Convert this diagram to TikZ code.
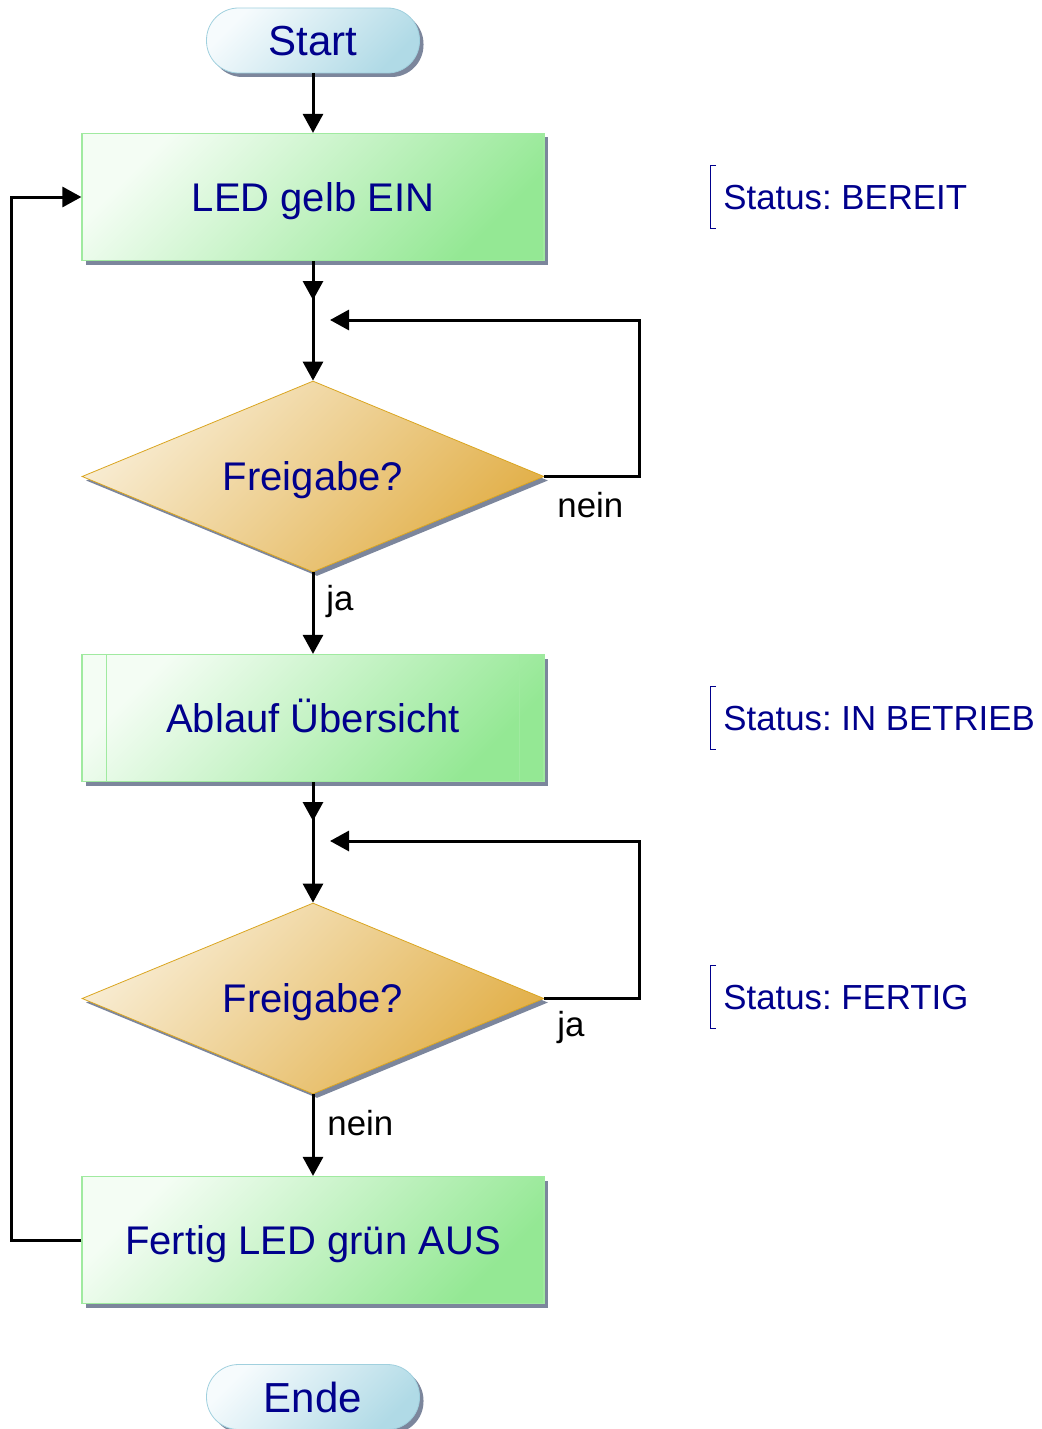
\documentclass[tikz,border=0pt]{standalone}
\usepackage{fontspec}
\setmainfont{Liberation Sans}
\frenchspacing
\usetikzlibrary{shapes.geometric,shadows,arrows.meta}

\definecolor{txtBlue}{RGB}{0,0,140}
\definecolor{termLight}{RGB}{246,251,253}
\definecolor{termDark}{RGB}{176,218,230}
\definecolor{termBorder}{RGB}{160,208,222}
\definecolor{boxLight}{RGB}{244,253,244}
\definecolor{boxDark}{RGB}{148,232,148}
\definecolor{boxBorder}{RGB}{160,234,160}
\definecolor{decLight}{RGB}{248,236,210}
\definecolor{decDark}{RGB}{226,176,74}
\definecolor{decBorder}{RGB}{218,165,32}
\definecolor{shadowGray}{RGB}{124,134,156}

\def\boxWidth{231pt}
\def\boxHeight{63.5pt}

\tikzset{
    shadowed/.style = {drop shadow = {shadow xshift = 2pt, shadow yshift = -2pt,
            fill = shadowGray, opacity = 1}},
    terminal/.style = {rectangle, rounded corners = 16pt, draw = termBorder,
            top color = termLight, bottom color = termDark, shading angle = 45,
            minimum width = 106.5pt, minimum height = 32.5pt, inner sep = 0pt,
            text height = 15pt, text depth = 0pt,
            text = txtBlue, font = \fontsize{21}{24}\selectfont, shadowed},
    flowbox/.style = {rectangle, draw = boxBorder, semithick,
            top color = boxLight, bottom color = boxDark, shading angle = 45,
            minimum width = \boxWidth, minimum height = \boxHeight, inner sep = 0pt,
            text height = 14.4pt, text depth = 0pt,
            text = txtBlue, font = \fontsize{20}{24}\selectfont, shadowed},
    decision/.style = {diamond, aspect = 2.4, draw = decBorder,
            top color = decLight, bottom color = decDark, shading angle = 45,
            minimum width = \boxWidth, minimum height = 95.5pt, inner sep = 0pt,
            text height = 14.4pt, text depth = 0pt,
            text = txtBlue, font = \fontsize{20}{24}\selectfont, shadowed},
    status/.style = {anchor = west, minimum height = 31.5pt, inner xsep = 6.5pt,
            inner ysep = 0pt, text height = 12.5pt, text depth = 0pt,
            text = txtBlue, font = \fontsize{17.4}{20}\selectfont},
    bracket/.style = {draw = txtBlue, line width = 0.5pt},
    lbl/.style = {font = \fontsize{17.4}{20}\selectfont, inner sep = 0pt},
    arr/.style = {line width = 1.5pt, -{Triangle[length = 9.5pt, width = 10pt]}},
    line/.style = {line width = 1.5pt},
}

\begin{document}
\begin{tikzpicture}[x = 0.5pt, y = -0.5pt]
    \useasboundingbox (0,0) rectangle (1041,1429);

    %% main column
    \node [terminal] (start) at (313,40.5) {Start};
    \node [flowbox] (ledGelb) at (313,197) {LED gelb EIN};
    \node [decision] (frei1) at (313,476.5) {Freigabe?};
    \node [flowbox] (ablauf) at (313,718) {Ablauf Übersicht};
    \node [decision] (frei2) at (313,998.5) {Freigabe?};
    \node [flowbox] (fertig) at (313,1240) {Fertig LED grün AUS};
    \node [terminal] (ende) at (313,1397) {Ende};

    %% subroutine side bars
    \draw [boxBorder, semithick]
        ([xshift = 12.5pt]ablauf.north west) -- ([xshift = 12.5pt]ablauf.south west)
        ([xshift = -12.5pt]ablauf.north east) -- ([xshift = -12.5pt]ablauf.south east)
        ;

    %% status notes
    \node [status] (stBereit) at (710,197) {Status: BEREIT};
    \node [status] (stBetrieb) at (710,718) {Status: IN BETRIEB};
    \node [status] (stFertig) at (710,997) {Status: FERTIG};
    \foreach \s in {stBereit, stBetrieb, stFertig} {
        \draw [bracket]
            ([xshift = 3pt]\s.north west) -- (\s.north west)
            -- (\s.south west) -- ([xshift = 3pt]\s.south west);
    }

    %% junctions
    \coordinate (mid1) at (313,300);
    \coordinate (join1) at (313,320);
    \coordinate (mid2) at (313,821);
    \coordinate (join2) at (313,841);
    \coordinate (back) at (11,700);

    %% connectors
    \draw [arr] (start) -- (ledGelb);
    \draw [arr] (ledGelb) -- (frei1.north);
    \draw [arr] (ledGelb) -- (mid1);
    \draw [arr, shorten > = 8.5pt] (frei1.east) -- ++(95,0) |- (join1);
    \draw [arr] (frei1.south) -- (ablauf);
    \draw [arr] (ablauf) -- (frei2.north);
    \draw [arr] (ablauf) -- (mid2);
    \draw [arr, shorten > = 8.5pt] (frei2.east) -- ++(95,0) |- (join2);
    \draw [arr] (frei2.south) -- (fertig);
    \draw [arr] (fertig.west) -| (back) |- (ledGelb.west);

    %% branch labels
    \node [lbl, anchor = west] (nein1) at (557,505) {nein};
    \node [lbl, anchor = west] (ja1) at (326,601) {ja};
    \node [lbl, anchor = west] (ja2) at (557,1027) {ja};
    \node [lbl, anchor = west] (nein2) at (327,1123) {nein};
\end{tikzpicture}
\end{document}
